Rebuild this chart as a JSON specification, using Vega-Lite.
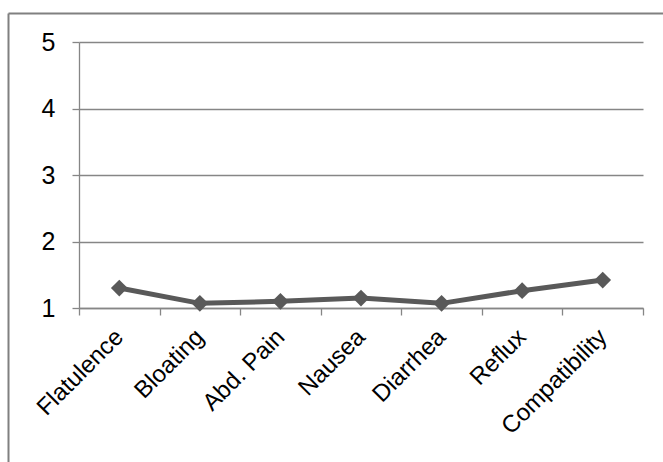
{
  "$schema": "https://vega.github.io/schema/vega-lite/v6.json",
  "width": 564,
  "height": 266,
  "autosize": {"type": "none"},
  "padding": {"left": 79, "top": 42, "right": 20, "bottom": 154},
  "background": "white",
  "config": {
    "view": {"stroke": null},
    "font": "Liberation Sans",
    "axis": {"labelFont": "Liberation Sans", "labelColor": "#000000"}
  },
  "datasets": {
    "frame": [
      {"xa": -0.125, "xb": 1.2, "ya": 1.1071, "yb": 1.1071},
      {"xa": -0.125, "xb": -0.125, "ya": 1.1071, "yb": -1.0}
    ],
    "scores": [
      {"symptom": "Flatulence", "score": 1.30},
      {"symptom": "Bloating", "score": 1.07},
      {"symptom": "Abd. Pain", "score": 1.10},
      {"symptom": "Nausea", "score": 1.15},
      {"symptom": "Diarrhea", "score": 1.07},
      {"symptom": "Reflux", "score": 1.26},
      {"symptom": "Compatibility", "score": 1.42}
    ]
  },
  "layer": [
    {
      "data": {"name": "frame"},
      "mark": {"type": "rule", "color": "#808080", "strokeWidth": 2, "clip": false},
      "encoding": {
        "x": {"field": "xa", "type": "quantitative", "scale": {"domain": [0, 1], "nice": false, "zero": false}, "axis": null},
        "x2": {"field": "xb"},
        "y": {"field": "ya", "type": "quantitative", "scale": {"domain": [0, 1], "nice": false, "zero": false}, "axis": null},
        "y2": {"field": "yb"}
      }
    },
    {
      "data": {"name": "scores"},
      "encoding": {
        "x": {
          "field": "symptom", "type": "nominal", "sort": null,
          "scale": {"type": "band", "paddingInner": 0, "paddingOuter": 0},
          "axis": {
            "title": null, "labelAngle": -45, "labelAlign": "right", "labelBaseline": "middle",
            "labelFontSize": 24, "labelPadding": 18, "tickBand": "extent",
            "tickSize": 7, "tickColor": "#868686", "tickWidth": 1.3,
            "domainColor": "#868686", "domainWidth": 1.3, "grid": false
          }
        },
        "y": {
          "field": "score", "type": "quantitative",
          "scale": {"domain": [1, 5], "nice": false, "zero": false},
          "axis": {
            "title": null, "values": [1, 2, 3, 4, 5], "labelFontSize": 25, "labelPadding": 17,
            "tickSize": 7, "tickColor": "#868686", "tickWidth": 1.3,
            "domainColor": "#868686", "domainWidth": 1.3,
            "grid": true, "gridColor": "#868686", "gridWidth": 1.3
          }
        }
      },
      "layer": [
        {"mark": {"type": "line", "color": "#595959", "strokeWidth": 5}},
        {"mark": {"type": "point", "shape": "diamond", "filled": true, "color": "#595959", "size": 280, "opacity": 1}}
      ]
    }
  ],
  "resolve": {"scale": {"x": "independent", "y": "independent"}, "axis": {"x": "independent", "y": "independent"}}
}
